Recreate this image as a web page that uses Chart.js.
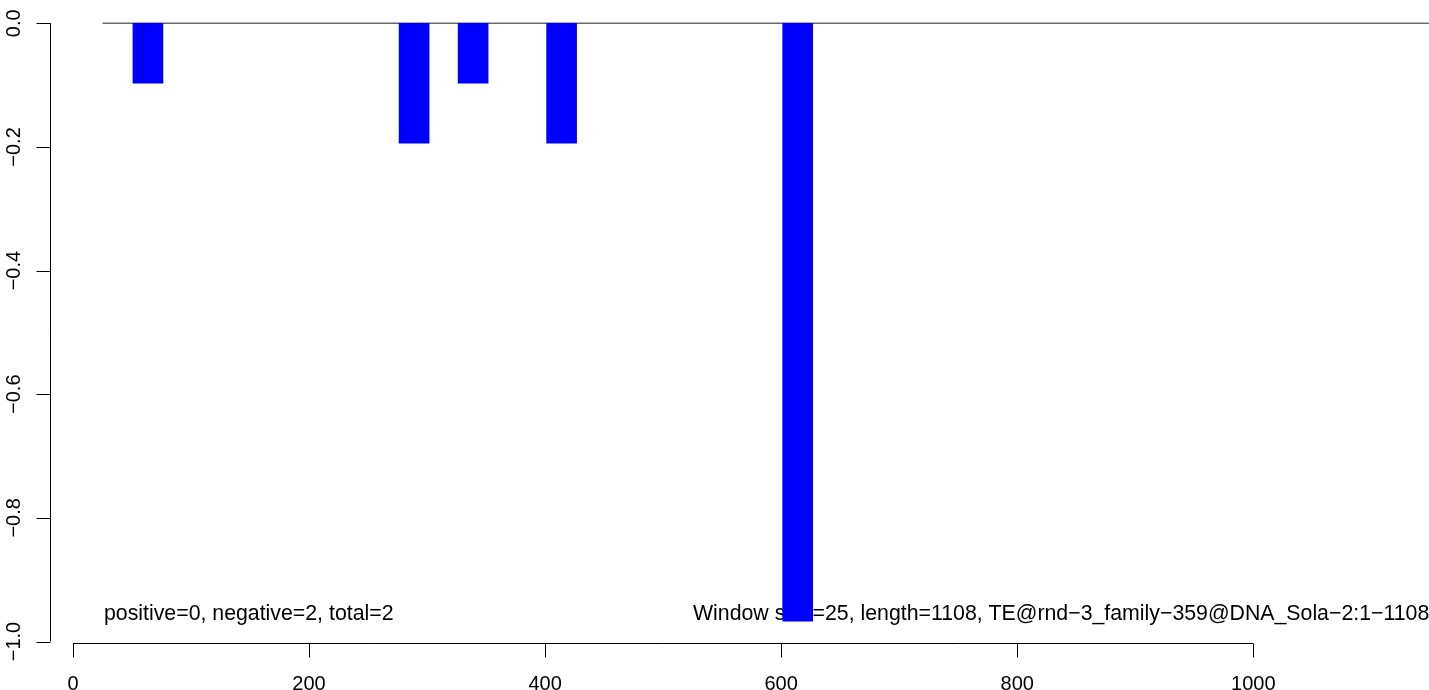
<!DOCTYPE html>
<html>
<head>
<meta charset="utf-8">
<script src="https://cdn.jsdelivr.net/npm/chart.js@4/dist/chart.umd.min.js"></script>
<style>
  html, body { margin: 0; padding: 0; background: #fff; overflow: hidden; }
  #wrap { width: 1429px; height: 690px; position: relative; }
</style>
</head>
<body>
<div id="wrap"><canvas id="plot"></canvas></div>
<script>
// window positions (bp) and the score in each window
const positions = [63.5, 289, 339, 414, 614];
const values = [-0.097, -0.194, -0.097, -0.194, -0.967];

const xTicks = [0, 200, 400, 600, 800, 1000];
const xTickLabels = ['0', '200', '400', '600', '800', '1000'];
const yTicks = [0, -0.2, -0.4, -0.6, -0.8, -1.0];
const yTickLabels = ['0.0', '\u22120.2', '\u22120.4', '\u22120.6', '\u22120.8', '\u22121.0'];

const zeroLine = [25, 1149];
const countsText = 'positive=0, negative=2, total=2';
const infoText = 'Window size=25, length=1108, TE@rnd\u22123_family\u2212359@DNA_Sola\u22122:1\u22121108';

const FONT = '20px "Liberation Sans", Arial, sans-serif';
const NOTE_FONT = '21.3px "Liberation Sans", Arial, sans-serif';

// R style axes: line only from first to last tick, ticks pointing out
const rAxes = {
    id: 'rAxes',
    beforeDatasetsDraw(chart) {
        // the notes sit under the bars
        const ctx = chart.ctx;
        ctx.save();
        ctx.fillStyle = '#000';
        ctx.font = NOTE_FONT;
        ctx.textBaseline = 'alphabetic';
        ctx.textAlign = 'left';
        ctx.fillText(countsText, 104, 620);
        ctx.fillText(infoText, 693, 620);
        ctx.restore();
    },
    afterDraw(chart) {
        const ctx = chart.ctx;
        const x = chart.scales.x;
        const y = chart.scales.y;
        const area = chart.chartArea;
        ctx.save();
        ctx.strokeStyle = '#000';
        ctx.lineWidth = 1;
        ctx.fillStyle = '#000';
        ctx.font = FONT;

        // x axis
        const xb = Math.round(area.bottom) + 0.5;
        ctx.beginPath();
        ctx.moveTo(x.getPixelForValue(xTicks[0]), xb);
        ctx.lineTo(x.getPixelForValue(xTicks[xTicks.length - 1]), xb);
        xTicks.forEach(t => {
            const px = Math.round(x.getPixelForValue(t)) + 0.5;
            ctx.moveTo(px, xb);
            ctx.lineTo(px, xb + 14);
        });
        ctx.stroke();
        ctx.textAlign = 'center';
        ctx.textBaseline = 'alphabetic';
        xTicks.forEach((t, i) => {
            ctx.fillText(xTickLabels[i], x.getPixelForValue(t), 690);
        });

        // y axis
        const yl = Math.round(area.left) + 0.5;
        ctx.beginPath();
        ctx.moveTo(yl, y.getPixelForValue(yTicks[0]));
        ctx.lineTo(yl, y.getPixelForValue(yTicks[yTicks.length - 1]));
        yTicks.forEach(t => {
            const py = Math.round(y.getPixelForValue(t)) + 0.5;
            ctx.moveTo(yl, py);
            ctx.lineTo(yl - 14, py);
        });
        ctx.stroke();
        yTicks.forEach((t, i) => {
            ctx.save();
            ctx.translate(20, y.getPixelForValue(t));
            ctx.rotate(-Math.PI / 2);
            ctx.textAlign = 'center';
            ctx.textBaseline = 'alphabetic';
            ctx.fillText(yTickLabels[i], 0, 0);
            ctx.restore();
        });
        ctx.restore();
    }
};

new Chart(document.getElementById('plot'), {
    type: 'bar',
    data: {
        datasets: [
            {
                type: 'bar',
                data: positions.map((p, i) => ({ x: p, y: values[i] })),
                backgroundColor: '#0000ff',
                borderWidth: 0,
                barThickness: 30,
                grouped: false,
                order: 0
            },
            {
                type: 'line',
                data: zeroLine.map(p => ({ x: p, y: 0 })),
                borderColor: '#6a6a6a',
                borderWidth: 1.5,
                pointRadius: 0,
                order: 1
            }
        ]
    },
    options: {
        responsive: true,
        maintainAspectRatio: false,
        animation: false,
        devicePixelRatio: 1,
        layout: { padding: { left: 50, top: 0, right: 0, bottom: 47 } },
        plugins: { legend: { display: false }, tooltip: { enabled: false }, title: { display: false } },
        scales: {
            x: { type: 'linear', min: -19.49, max: 1148.9, offset: false, display: false },
            y: { type: 'linear', min: -1.0024, max: 0.0377, display: false }
        }
    },
    plugins: [rAxes]
});
</script>
</body>
</html>
